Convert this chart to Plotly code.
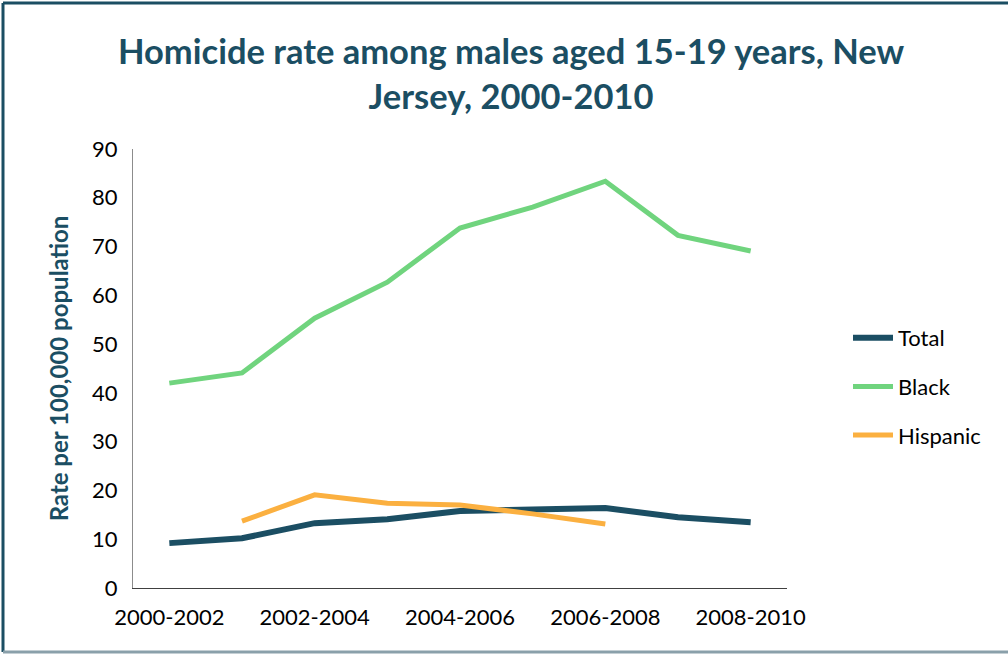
import plotly.graph_objects as go

categories = ["2000-2002", "2001-2003", "2002-2004", "2003-2005", "2004-2006",
              "2005-2007", "2006-2008", "2007-2009", "2008-2010"]
total = [9.2, 10.2, 13.3, 14.1, 15.8, 16.2, 16.4, 14.5, 13.5]
black = [42.0, 44.1, 55.3, 62.7, 73.8, 78.1, 83.4, 72.3, 69.1]
hispanic = [None, 13.7, 19.1, 17.4, 17.0, 15.2, 13.1, None, None]
tick_labels = ["2000-2002", "2002-2004", "2004-2006", "2006-2008", "2008-2010"]
tick_idx = [0, 2, 4, 6, 8]

TEAL = "#1b4e63"
GREEN = "#70d47e"
ORANGE = "#fbb040"
FONT = "Lato, Open Sans, sans-serif"

xs = list(range(len(categories)))
fig = go.Figure()
fig.add_trace(go.Scatter(x=xs, y=total, mode="lines", name="Total", legendgroup="t",
                         line=dict(color=TEAL, width=6)))
fig.add_trace(go.Scatter(x=xs, y=black, mode="lines", name="Black", legendgroup="b",
                         line=dict(color=GREEN, width=5)))
fig.add_trace(go.Scatter(x=xs, y=hispanic, mode="lines", name="Hispanic", legendgroup="h",
                         line=dict(color=ORANGE, width=5)))

L, R, T, B = 133, 221, 149, 66
W, H = 1008, 654
pw, ph = W - L - R, H - T - B

def px_x(p):
    return (p - L) / pw

def px_y(p):
    return (H - B - p) / ph

fig.update_layout(
    width=W, height=H,
    margin=dict(l=L, r=R, t=T, b=B),
    paper_bgcolor="white", plot_bgcolor="white",
    font=dict(family=FONT, color="black", size=22),
    showlegend=True,
    legend=dict(x=px_x(848), y=px_y(317), xanchor="left", yanchor="top",
                font=dict(size=22, color="black"), tracegroupgap=17,
                traceorder="grouped",
                itemwidth=40, bgcolor="rgba(0,0,0,0)"),
    xaxis=dict(range=[-0.5, 8.5], tickmode="array", tickvals=tick_idx,
               ticktext=tick_labels, showgrid=False, zeroline=False,
               showline=True, linecolor="#404040", linewidth=1, ticks="",
               tickfont=dict(size=22, color="black"), ticklabelstandoff=10),
    yaxis=dict(range=[0, 90], dtick=10, showgrid=False, zeroline=False,
               showline=True, linecolor="#8c8c8c", linewidth=1, ticks="",
               tickfont=dict(size=22, color="black"), ticklabelstandoff=10,
               title=dict(text="<b>Rate per 100,000 population</b>",
                          font=dict(size=24, color=TEAL), standoff=16)),
    annotations=[dict(
        text="<b>Homicide rate among males aged 15-19 years, New<br>Jersey, 2000-2010</b>",
        xref="paper", yref="paper", x=px_x(511), y=px_y(73),
        xanchor="center", yanchor="middle", showarrow=False,
        font=dict(size=34.5, color=TEAL, family=FONT), align="center")],
    shapes=[
        dict(type="line", xref="paper", yref="paper", x0=px_x(3), x1=px_x(1012),
             y0=px_y(3), y1=px_y(3), line=dict(color=TEAL, width=3)),
        dict(type="line", xref="paper", yref="paper", x0=px_x(3), x1=px_x(3),
             y0=px_y(3), y1=px_y(652), line=dict(color=TEAL, width=3)),
        dict(type="line", xref="paper", yref="paper", x0=px_x(3), x1=px_x(1012),
             y0=px_y(652), y1=px_y(652), line=dict(color="#8aa0aa", width=3)),
    ],
)

fig.write_html("out.html", config={"displayModeBar": False},
               post_script="document.body.style.margin='0';document.body.style.overflow='hidden';")
